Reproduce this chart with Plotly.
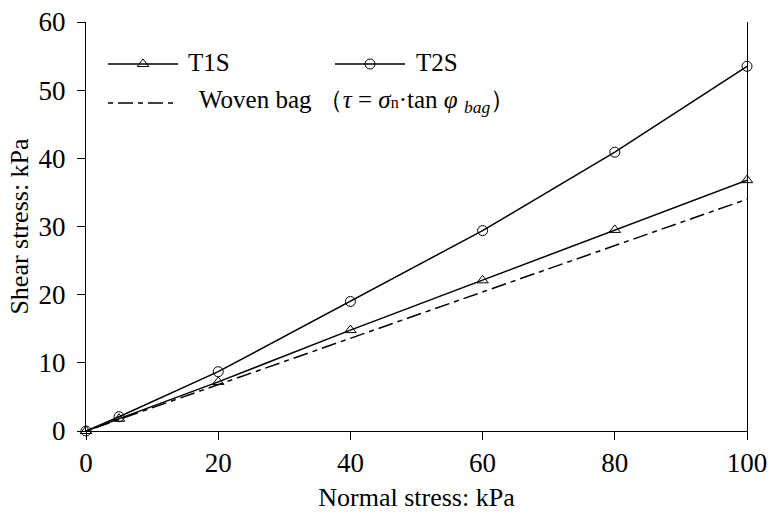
import plotly.graph_objects as go

# Direct shear test results
normal_stress = [0, 5, 20, 40, 60, 80, 100]
t1s_shear = [0, 1.8, 7.2, 14.8, 22.1, 29.5, 36.8]
t2s_shear = [0, 2.1, 8.7, 19.0, 29.4, 40.9, 53.5]

# Woven bag interface: tau = sigma_n * tan(phi_bag)
bag_normal = [0, 100]
bag_shear = [0, 34.0]

x_ticks = [0, 20, 40, 60, 80, 100]
y_ticks = [0, 10, 20, 30, 40, 50, 60]

FONT = "Liberation Serif"
DASH = "5px,5px,15px,5px"
LINE_W = 1.5

fig = go.Figure()

fig.add_trace(go.Scatter(
    x=bag_normal, y=bag_shear, mode="lines",
    line=dict(color="black", width=LINE_W, dash=DASH),
    showlegend=False, cliponaxis=False,
))
fig.add_trace(go.Scatter(
    x=normal_stress, y=t1s_shear, mode="lines+markers",
    line=dict(color="black", width=LINE_W),
    marker=dict(symbol="triangle-up-open", size=10, color="black", line=dict(width=1)),
    showlegend=False, cliponaxis=False,
))
fig.add_trace(go.Scatter(
    x=normal_stress, y=t2s_shear, mode="lines+markers",
    line=dict(color="black", width=LINE_W),
    marker=dict(symbol="circle-open", size=10, color="black", line=dict(width=1)),
    showlegend=False, cliponaxis=False,
))

# Legend drawn on an overlay axis measured in pixels of the plot area
legend_items = [
    # (x0, x1, y, dash, symbol, label, label_x)
    (22, 92, 42, "solid", "triangle-up-open", "T1S", 100),
    (249, 319, 42, "solid", "circle-open", "T2S", 328),
    (22, 92, 81, DASH, None,
     "Woven bag （<i>τ</i> = <i>σ</i><span style='font-size:16px'>n</span>·tan <i>φ</i> "
     "<sub><i>bag</i></sub>）", 111),
]
for x0, x1, yy, dash, sym, label, lx in legend_items:
    fig.add_trace(go.Scatter(
        x=[x0, x1], y=[yy, yy], mode="lines",
        line=dict(color="black", width=LINE_W, dash=dash),
        xaxis="x2", yaxis="y2", showlegend=False, hoverinfo="skip",
    ))
    if sym:
        fig.add_trace(go.Scatter(
            x=[(x0 + x1) / 2], y=[yy], mode="markers",
            marker=dict(symbol=sym, size=10, color="black", line=dict(width=1)),
            xaxis="x2", yaxis="y2", showlegend=False, hoverinfo="skip",
        ))
    fig.add_annotation(
        x=lx, y=yy - 2, xref="x2", yref="y2", text=label, showarrow=False,
        xanchor="left", yanchor="middle", font=dict(family=FONT, size=25, color="black"),
    )

fig.update_layout(
    width=772, height=519,
    margin=dict(l=86, r=25, t=22, b=88),
    paper_bgcolor="white", plot_bgcolor="white",
    font=dict(family=FONT, color="black"),
    xaxis=dict(
        range=[0, 100], tickvals=x_ticks, ticks="outside", ticklen=8, tickwidth=1,
        tickcolor="black", showline=True, linecolor="black", linewidth=1,
        showgrid=False, zeroline=False, tickfont=dict(size=27), automargin=False,
        title=dict(text="Normal stress: kPa", font=dict(size=26), standoff=10),
    ),
    yaxis=dict(
        range=[0, 60], tickvals=y_ticks, ticks="outside", ticklen=8, tickwidth=1,
        tickcolor="black", showline=True, mirror=True, linecolor="black", linewidth=1,
        showgrid=False, zeroline=False, tickfont=dict(size=27), ticklabelstandoff=6,
        automargin=False,
        title=dict(text="Shear stress: kPa", font=dict(size=26), standoff=2),
    ),
    xaxis2=dict(range=[0, 661], overlaying="x", visible=False, fixedrange=True),
    yaxis2=dict(range=[409, 0], overlaying="y", visible=False, fixedrange=True),
)

fig.write_html("out.html")
